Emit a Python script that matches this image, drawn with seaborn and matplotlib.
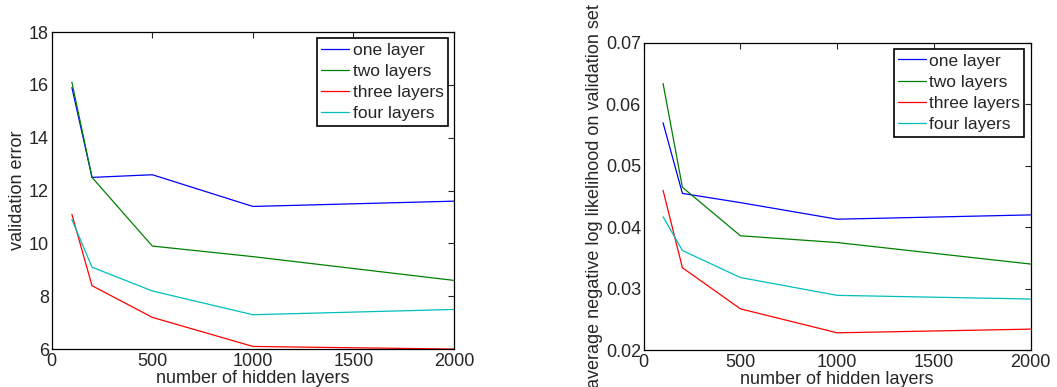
import pandas as pd
import seaborn as sns
import matplotlib.pyplot as plt

sns.set_style("white")
plt.rcParams['font.family'] = ['Liberation Sans', 'DejaVu Sans']

hidden = [100, 200, 500, 1000, 2000]
labels = ["one layer", "two layers", "three layers", "four layers"]
colors = ["#0000ff", "#008000", "#ff0000", "#00bfbf"]

# validation error
err_one = [15.9, 12.5, 12.6, 11.4, 11.6]
err_two = [16.1, 12.5, 9.9, 9.5, 8.6]
err_three = [11.1, 8.4, 7.2, 6.1, 6.0]
err_four = [10.9, 9.1, 8.2, 7.3, 7.5]

# average negative log likelihood
nll_one = [0.0570, 0.0455, 0.0440, 0.0413, 0.0420]
nll_two = [0.0634, 0.0465, 0.0386, 0.0375, 0.0340]
nll_three = [0.0460, 0.0334, 0.0267, 0.0228, 0.0234]
nll_four = [0.0417, 0.0362, 0.0318, 0.0289, 0.0283]


def long_df(series):
    rows = []
    for lab, vals in zip(labels, series):
        for x, v in zip(hidden, vals):
            rows.append({"hidden": x, "value": v, "model": lab})
    return pd.DataFrame(rows)


df_err = long_df([err_one, err_two, err_three, err_four])
df_nll = long_df([nll_one, nll_two, nll_three, nll_four])

fig = plt.figure(figsize=(10.57, 3.87), dpi=100)
ax1 = fig.add_axes([0.049, 0.098, 0.3805, 0.819])
ax2 = fig.add_axes([0.609, 0.0956, 0.366, 0.7934])

for ax, d, ylim, yticks in [
    (ax1, df_err, (6, 18), [6, 8, 10, 12, 14, 16, 18]),
    (ax2, df_nll, (0.02, 0.07), [0.02, 0.03, 0.04, 0.05, 0.06, 0.07]),
]:
    sns.lineplot(data=d, x="hidden", y="value", hue="model", hue_order=labels,
                 palette=colors, linewidth=0.9, ax=ax)
    ax.set_xlim(0, 2000)
    ax.set_ylim(*ylim)
    ax.set_xticks([0, 500, 1000, 1500, 2000])
    ax.set_yticks(yticks)
    ax.tick_params(direction="in", top=True, right=True, length=4,
                   labelsize=13, width=0.8)
    ax.tick_params(axis="x", pad=3)
    ax.tick_params(axis="y", pad=2)
    for s in ax.spines.values():
        s.set_visible(True)
        s.set_color("black")
        s.set_linewidth(0.9)
    ax.set_xlabel("number of hidden layers", fontsize=13, labelpad=0)
    leg = ax.legend(loc="upper right", fontsize=12.5, handlelength=1.6,
                    handletextpad=0.2, borderpad=0.25, labelspacing=0.35,
                    fancybox=False, framealpha=1, borderaxespad=0.35)
    leg.get_frame().set_edgecolor("black")
    leg.get_frame().set_linewidth(1.2)

ax2.set_yticklabels(["0.02", "0.03", "0.04", "0.05", "0.06", "0.07"])
ax1.set_ylabel("validation error", fontsize=13, labelpad=2)
ax2.set_ylabel("average negative log likelihood on validation set", fontsize=13, labelpad=2)

fig.savefig("out.png", dpi=100)
